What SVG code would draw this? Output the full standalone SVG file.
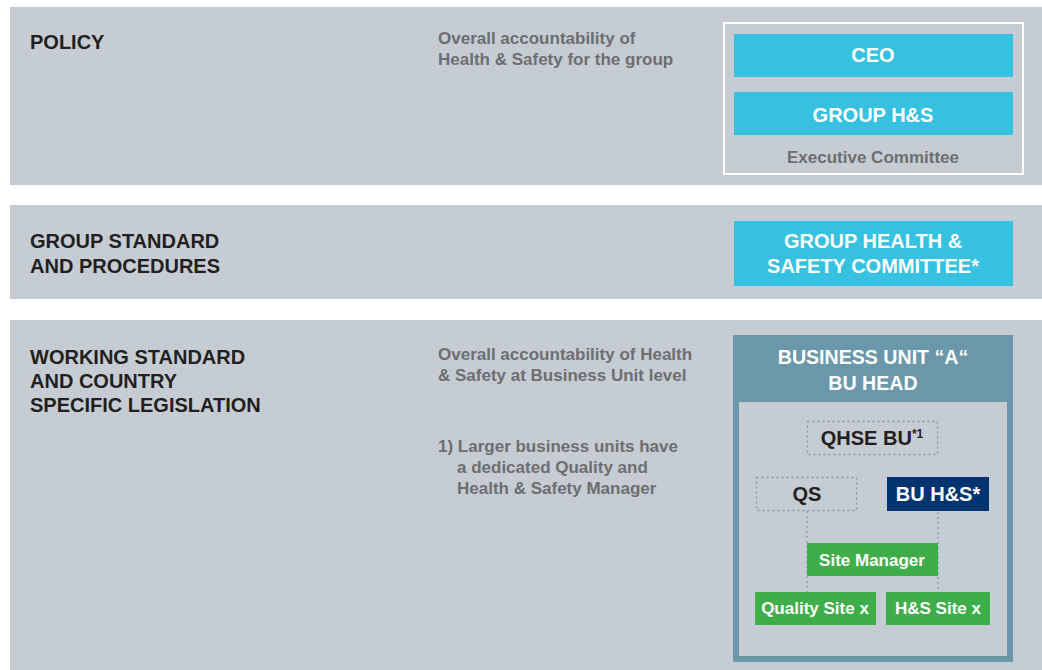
<svg xmlns="http://www.w3.org/2000/svg" width="1042" height="670" viewBox="0 0 1042 670">
<style>
.band{fill:#c5ccd3}
.h{font-family:"Liberation Sans",Arial,sans-serif;font-weight:bold;font-size:20px;fill:#231f20}
.g{font-family:"Liberation Sans",Arial,sans-serif;font-weight:bold;font-size:17px;fill:#6d6e71}
.w{font-family:"Liberation Sans",Arial,sans-serif;font-weight:bold;font-size:20px;fill:#ffffff;text-anchor:middle}
.bu{font-family:"Liberation Sans",Arial,sans-serif;font-weight:bold;font-size:19.6px;fill:#ffffff;text-anchor:middle}
.ws{font-family:"Liberation Sans",Arial,sans-serif;font-weight:bold;font-size:17px;fill:#ffffff;text-anchor:middle}
.k{font-family:"Liberation Sans",Arial,sans-serif;font-weight:bold;font-size:20px;fill:#231f20;text-anchor:middle}
.cyan{fill:#35c1df}
.green{fill:#3fae4a}
.dot{fill:none;stroke:#7f9aac;stroke-width:1.3;stroke-dasharray:2 3}
</style>
<rect width="1042" height="670" fill="#ffffff"/>
<rect class="band" x="10" y="7" width="1032" height="178"/>
<rect class="band" x="10" y="205" width="1032" height="94"/>
<rect class="band" x="10" y="320" width="1032" height="350"/>

<text class="h" x="30" y="49">POLICY</text>
<text class="g" x="438" y="44">Overall accountability of</text>
<text class="g" x="438" y="65">Health &amp; Safety for the group</text>

<text class="h" x="30" y="248">GROUP STANDARD</text>
<text class="h" x="30" y="273">AND PROCEDURES</text>

<text class="h" x="30" y="364">WORKING STANDARD</text>
<text class="h" x="30" y="388">AND COUNTRY</text>
<text class="h" x="30" y="412">SPECIFIC LEGISLATION</text>
<text class="g" x="438" y="360">Overall accountability of Health</text>
<text class="g" x="438" y="381">&amp; Safety at Business Unit level</text>
<text class="g" x="438" y="452">1) Larger business units have</text>
<text class="g" x="457" y="473">a dedicated Quality and</text>
<text class="g" x="457" y="494">Health &amp; Safety Manager</text>

<g id="executive-committee">
<rect x="724" y="23" width="299" height="151" fill="none" stroke="#ffffff" stroke-width="2"/>
<text class="g" x="873" y="163" text-anchor="middle">Executive Committee</text>
</g>
<g id="ceo">
<rect class="cyan" x="734" y="34" width="279" height="43"/>
<text class="w" x="873" y="62">CEO</text>
</g>
<g id="group-hs">
<rect class="cyan" x="734" y="92" width="279" height="43"/>
<text class="w" x="873" y="122">GROUP H&amp;S</text>
</g>
<g id="group-hs-committee">
<rect class="cyan" x="734" y="221" width="279" height="65"/>
<text class="w" x="873" y="248">GROUP HEALTH &amp;</text>
<text class="w" x="873" y="273">SAFETY COMMITTEE*</text>
</g>

<g id="business-unit">
<rect x="733" y="335" width="280" height="327" fill="#6a97aa"/>
<rect x="739" y="402" width="268" height="254" fill="#c5ccd3"/>
<text class="bu" x="873" y="364">BUSINESS UNIT “A“</text>
<text class="bu" x="873" y="390">BU HEAD</text>
</g>

<g id="connectors">
<line class="dot" x1="807" y1="511" x2="807" y2="592"/>
<line class="dot" x1="938" y1="512" x2="938" y2="592"/>
</g>

<g id="qhse-bu">
<rect class="dot" x="807.5" y="421.5" width="130" height="33"/>
<text class="k" x="872" y="445">QHSE BU<tspan style="font-size:12px" dy="-7">*1</tspan></text>
</g>
<g id="qs">
<rect class="dot" x="756.5" y="477.5" width="100" height="33"/>
<text class="k" x="807" y="501">QS</text>
</g>
<g id="bu-hs">
<rect x="887" y="477" width="102" height="34" fill="#003470"/>
<text class="k" x="938" y="501" style="fill:#ffffff">BU H&amp;S*</text>
</g>
<g id="site-manager">
<rect class="green" x="807" y="543" width="131" height="33"/>
<text class="ws" x="872" y="566">Site Manager</text>
</g>
<g id="quality-site">
<rect class="green" x="755" y="592" width="121" height="33"/>
<text class="ws" x="815" y="614">Quality Site x</text>
</g>
<g id="hs-site">
<rect class="green" x="886" y="592" width="104" height="33"/>
<text class="ws" x="938" y="614">H&amp;S Site x</text>
</g>
</svg>
